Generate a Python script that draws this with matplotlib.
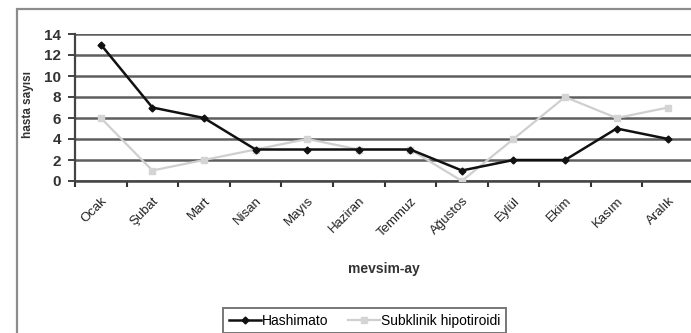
import matplotlib
matplotlib.use("Agg")
import matplotlib.pyplot as plt
from matplotlib.patches import Rectangle
import numpy as np

months = ["Ocak", "Şubat", "Mart", "Nisan", "Mayıs", "Haziran", "Temmuz",
          "Ağustos", "Eylül", "Ekim", "Kasım", "Aralık"]
hashimato = [13, 7, 6, 3, 3, 3, 3, 1, 2, 2, 5, 4]
subklinik = [6, 1, 2, 3, 4, 3, 3, 0, 4, 8, 6, 7]
y_ticks = [0, 2, 4, 6, 8, 10, 12, 14]

plt.rcParams["font.family"] = ["Liberation Sans", "DejaVu Sans"]

W, H = 691, 333
fig = plt.figure(figsize=(W / 100, H / 100), dpi=100)
fig.patch.set_facecolor("white")

# outer chart-area frame
fig.add_artist(Rectangle((17 / W, -0.05), 1.0, 1 - 9 / H + 0.05, fill=False,
                         ec="#8c8c8c", lw=1.6, transform=fig.transFigure))

ax = fig.add_axes([75 / W, 1 - 181 / H, 619 / W, 147 / H])
x = np.arange(len(months))

ax.plot(x, subklinik, color="#cfcfcf", lw=1.6, marker="s", ms=4.5,
        mfc="#d4d4d4", mec="#d4d4d4", label="Subklinik hipotiroidi", zorder=3)
ax.plot(x, hashimato, color="#111111", lw=1.8, marker="D", ms=3.5,
        mfc="#111111", mec="#111111", label="Hashimato", zorder=4)

ax.set_xlim(-0.5, len(months) - 0.5)
ax.set_ylim(0, 14)
ax.set_yticks(y_ticks)
ax.set_yticklabels([str(v) for v in y_ticks], fontsize=11, fontweight="bold",
                   color="#333333")
ax.yaxis.grid(True, color="#5e5e5e", lw=1.8)
ax.set_axisbelow(True)

ax.set_xticks(x)
ax.set_xticklabels(months, rotation=45, ha="right", rotation_mode="anchor",
                   fontsize=9.5, color="#222222")
ax.set_xticks(np.arange(-0.5, len(months)), minor=True)
ax.tick_params(axis="x", which="major", length=0, pad=10)
ax.tick_params(axis="x", which="minor", length=4, width=1.5, color="#333333")
ax.tick_params(axis="y", length=5, width=1.3, color="#333333", pad=5)

for s in ["top", "right"]:
    ax.spines[s].set_visible(False)
ax.spines["left"].set_color("#444444")
ax.spines["left"].set_linewidth(1.6)
ax.spines["bottom"].set_color("#444444")
ax.spines["bottom"].set_linewidth(1.8)

fig.text(28 / W, 1 - 105 / H, "hasta sayısı", rotation=90, ha="center", va="center",
         fontsize=8.5, fontweight="bold", color="#333333")
fig.text(384 / W, 1 - 269 / H, "mevsim-ay", ha="center", va="center",
         fontsize=10, fontweight="bold", color="#333333")

h, l = ax.get_legend_handles_labels()
leg = fig.legend(h[::-1], l[::-1], loc="upper left", ncol=2,
                 bbox_to_anchor=(223 / W, 1 - 308 / H), fontsize=10,
                 frameon=True, fancybox=False, edgecolor="#555555",
                 handlelength=2.3, handletextpad=0.1, columnspacing=1.4,
                 borderpad=0.4, borderaxespad=0)
leg.get_frame().set_linewidth(1.4)

fig.savefig("out.png", dpi=100, facecolor="white")
